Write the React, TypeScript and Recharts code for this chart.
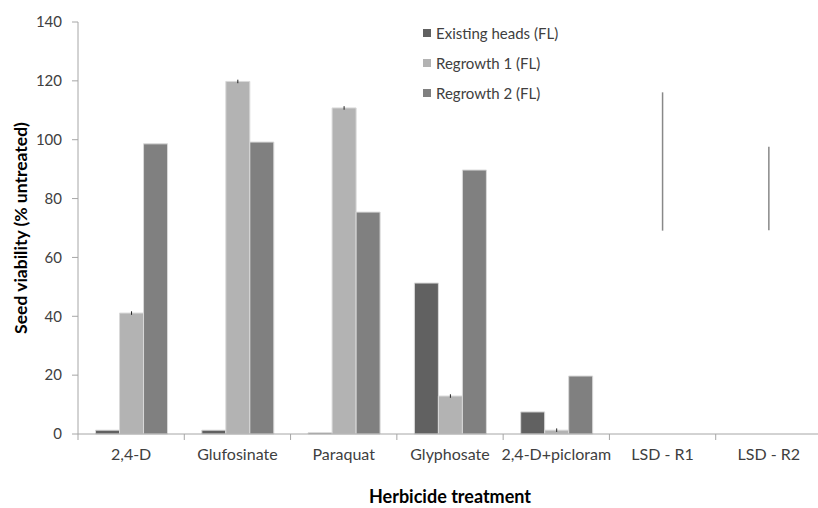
import { ComposedChart, Bar, Line, XAxis, YAxis, Legend, ErrorBar } from 'recharts'

const categories = ['2,4-D', 'Glufosinate', 'Paraquat', 'Glyphosate', '2,4-D+picloram', 'LSD - R1', 'LSD - R2']
const existingHeads = [1.3, 1.3, 0.4, 51.3, 7.5, null, null]
const regrowth1 = [41.1, 119.8, 110.8, 12.9, 1.3, null, null]
const regrowth1Err = [0.6, 0.6, 0.6, 0.6, 0.6, null, null]
const regrowth2 = [98.6, 99.2, 75.4, 89.7, 19.7, null, null]
// LSD bars drawn as error bars around their midpoint
const lsdMid = [null, null, null, null, null, 92.6, 83.4]
const lsdHalf = [null, null, null, null, null, 23.5, 14.2]
const yTicks = [0, 20, 40, 60, 80, 100, 120, 140]

const data = categories.map((name, i) => ({
  name,
  eh: existingHeads[i],
  r1: regrowth1[i],
  r1Err: regrowth1Err[i],
  r2: regrowth2[i],
  lsd: lsdMid[i],
  lsdErr: lsdHalf[i],
}))

const FONT = 'Lato, "Open Sans", sans-serif'
const AXIS = '#a6a6a6'
const TEXT = '#404040'

const legendItems = [
  { label: 'Existing heads (FL)', color: '#616161' },
  { label: 'Regrowth 1 (FL)', color: '#b3b3b3' },
  { label: 'Regrowth 2 (FL)', color: '#808080' },
]

const renderLegend = () => (
  <div style={{ fontFamily: FONT, fontSize: 15, color: TEXT }}>
    {legendItems.map((it) => (
      <div key={it.label} style={{ display: 'flex', alignItems: 'center', height: 30 }}>
        <span style={{ width: 8, height: 8, background: it.color, marginRight: 5, display: 'inline-block' }} />
        <span>{it.label}</span>
      </div>
    ))}
  </div>
)

// category label plus a tick mark on the left edge of its band
const CategoryTick = (props: any) => {
  const { x, y, payload } = props
  const edge = x - (payload.offset || 0)
  return (
    <g>
      <line x1={edge} x2={edge} y1={y} y2={y + 6} stroke={AXIS} />
      <text x={x} y={y + 26} textAnchor="middle" fill={TEXT} fontSize={16} fontFamily={FONT}>
        {payload.value}
      </text>
    </g>
  )
}

const YTitle = (props: any) => {
  const { viewBox } = props
  const x = viewBox.x + 20
  const y = viewBox.y + viewBox.height / 2
  return (
    <text
      x={x}
      y={y}
      transform={`rotate(-90, ${x}, ${y})`}
      textAnchor="middle"
      dominantBaseline="central"
      fontFamily={FONT}
      fontWeight="bold"
      fontSize={17.5}
      fill="#000"
    >
      Seed viability (% untreated)
    </text>
  )
}

export default function App() {
  return (
    <div style={{ position: 'absolute', left: 0, top: 0, width: 818, height: 508, overflow: 'hidden', background: '#fff' }}>
      <ComposedChart
        width={830}
        height={508}
        data={data}
        margin={{ top: 22, right: 8, left: 0, bottom: 0 }}
        barCategoryGap="16.5%"
        barGap={0}
      >
        <XAxis
          dataKey="name"
          height={74}
          tickLine={false}
          tickSize={0}
          tickMargin={0}
          axisLine={{ stroke: AXIS }}
          tick={<CategoryTick />}
          interval={0}
          label={{
            value: 'Herbicide treatment',
            position: 'insideBottom',
            offset: 5,
            fill: '#000',
            fontSize: 18,
            fontWeight: 'bold',
            fontFamily: FONT,
          }}
        />
        <YAxis
          width={78}
          domain={[0, 140]}
          ticks={yTicks}
          tickSize={6}
          tickMargin={10}
          axisLine={{ stroke: AXIS }}
          tickLine={{ stroke: AXIS }}
          tick={{ fill: TEXT, fontSize: 15, fontFamily: FONT }}
          label={<YTitle />}
        />
        <Legend
          content={renderLegend}
          layout="vertical"
          verticalAlign="middle"
          align="center"
          wrapperStyle={{ left: 423, top: 18, width: 200 }}
        />
        <Bar dataKey="eh" name="Existing heads (FL)" fill="#616161" stroke="#d9d9d9" strokeWidth={1} isAnimationActive={false} />
        <Bar dataKey="r1" name="Regrowth 1 (FL)" fill="#b3b3b3" stroke="#d9d9d9" strokeWidth={1} isAnimationActive={false}>
          <ErrorBar dataKey="r1Err" direction="y" width={0} stroke="#222" strokeWidth={1} />
        </Bar>
        <Bar dataKey="r2" name="Regrowth 2 (FL)" fill="#808080" stroke="#d9d9d9" strokeWidth={1} isAnimationActive={false} />
        <Line
          dataKey="lsd"
          stroke="none"
          dot={false}
          activeDot={false}
          legendType="none"
          isAnimationActive={false}
        >
          <ErrorBar dataKey="lsdErr" direction="y" width={0} stroke="#888" strokeWidth={1.5} />
        </Line>
      </ComposedChart>
    </div>
  )
}
